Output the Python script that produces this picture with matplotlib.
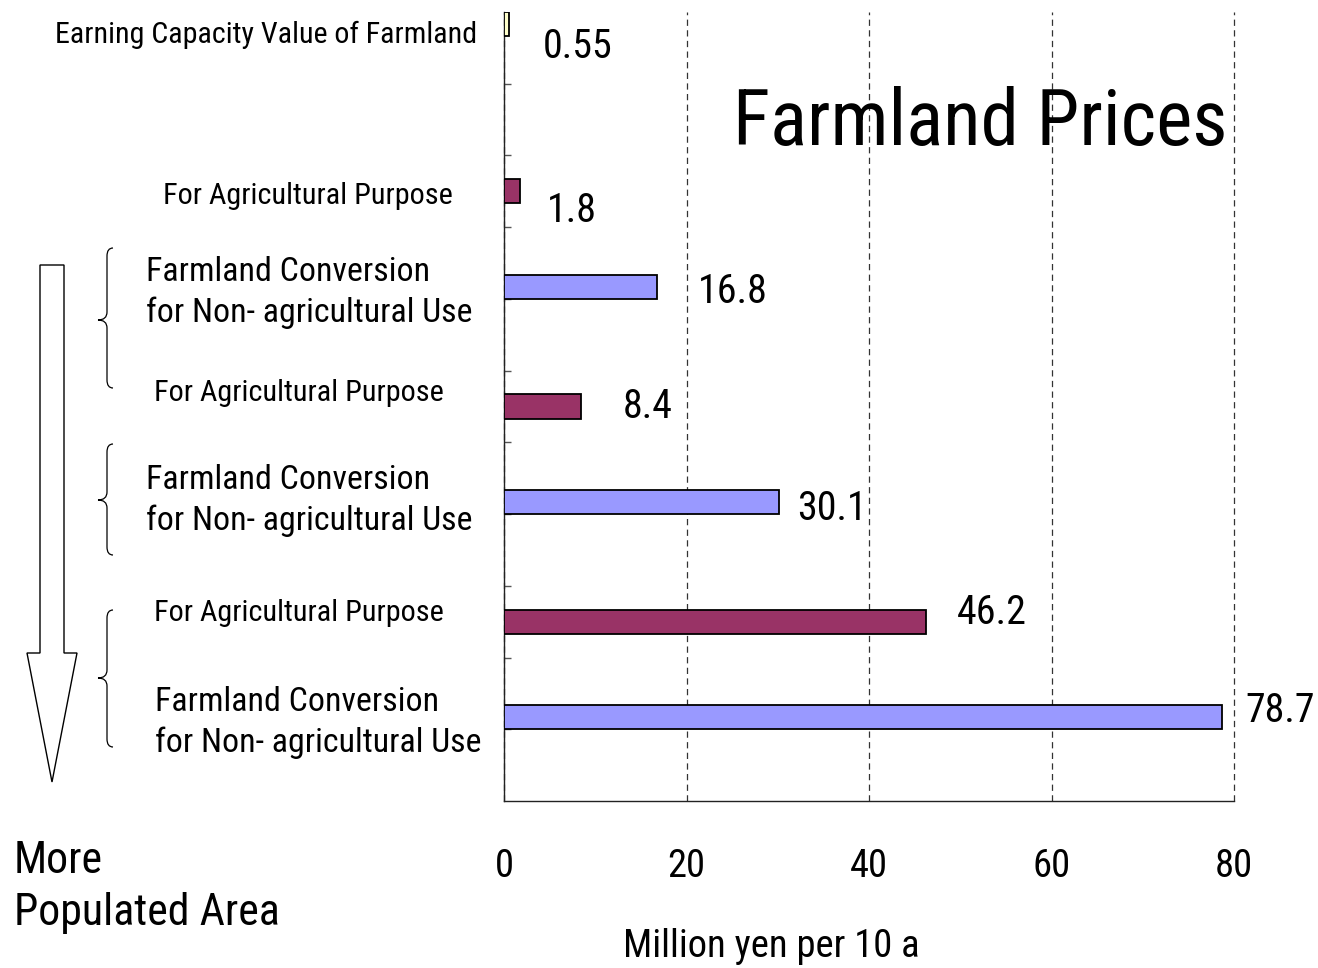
import os
import matplotlib
matplotlib.use("Agg")
import matplotlib.pyplot as plt
from matplotlib import font_manager
from matplotlib.font_manager import FontProperties
from matplotlib.patches import Polygon, PathPatch
from matplotlib.path import Path

# --- data -------------------------------------------------------------
values = [0.55, 1.8, 16.8, 8.4, 30.1, 46.2, 78.7]
kinds = ["earning", "agri", "conv", "agri", "conv", "agri", "conv"]
slots = [0, 2, 3, 5, 6, 8, 9]          # category slot of each bar (11 slots)
xticks = [0, 20, 40, 60, 80]
cat_labels = [
    ["Earning Capacity Value of Farmland"],
    ["For Agricultural Purpose"],
    ["Farmland Conversion", "for Non- agricultural Use"],
    ["For Agricultural Purpose"],
    ["Farmland Conversion", "for Non- agricultural Use"],
    ["For Agricultural Purpose"],
    ["Farmland Conversion", "for Non- agricultural Use"],
]

# --- styling ----------------------------------------------------------
colors = {"earning": "#FFFFCC", "agri": "#993366", "conv": "#9999FF"}
offsets = {"earning": 1 / 6, "agri": 0.5, "conv": 5 / 6}
bar_h = 0.335
# value-label shift from bar end, in pixels (right, down to baseline)
label_shift = [(34, 34), (26, 31), (41, 16), (42, 11), (18, 18), (31, 2), (23, 5)]
# category labels: left x, first baseline y, size
cat_pos = [(55, 43, 23.3), (163, 204, 23.5), (146, 281, 26.3), (154, 401, 23.5),
           (146, 489, 26.3), (154, 621, 23.5), (155, 711, 26.3)]
line_gap = 41


def pick_font():
    # the reference uses a squeezed Arial look: take a narrow face if one exists
    prefs = ["liberationsansnarrow", "arialn", "robotocondensed", "notosans-condensed",
             "notosans", "opensans", "dejavusanscondensed", "condensed", "narrow"]
    best, rank = None, len(prefs)
    for f in font_manager.fontManager.ttflist:
        base = os.path.basename(f.fname).lower()
        if not ("narrow" in base or "condensed" in base):
            continue
        if any(s in base for s in ("semi", "extra", "ultra", "bold", "italic", "light",
                                   "medium", "black", "thin")):
            continue
        if f.style != "normal" or f.weight not in (400, "normal", "regular"):
            continue
        for i, p in enumerate(prefs):
            if p in base and i < rank:
                best, rank = f.fname, i
    return best


font_file = pick_font()


def fprop(size):
    if font_file:
        return FontProperties(fname=font_file, size=size)
    return FontProperties(family="Liberation Sans", size=size)


W, H = 1318, 968
fig = plt.figure(figsize=(W / 100, H / 100), dpi=100)

# one scale factor so that text widths come out like the reference
renderer = fig.canvas.get_renderer()
probe = fig.text(0, 0, "Million yen per 10 a", fontproperties=fprop(30))
k = 297 / probe.get_window_extent(renderer).width
k = min(max(k, 0.7), 1.15)
probe.remove()


def fp(size):
    return fprop(size * k)


ax = fig.add_axes([504 / W, 1 - 801 / H, 730 / W, 789 / H])

ypos = [s + offsets[kd] for s, kd in zip(slots, kinds)]
ax.barh(ypos, values, height=bar_h, color=[colors[kd] for kd in kinds],
        edgecolor="black", linewidth=1.3, zorder=3)

for v, y, (dx, dy) in zip(values, ypos, label_shift):
    ax.annotate(f"{v:g}", xy=(v, y), xytext=(dx, -dy), textcoords="offset pixels",
                ha="left", va="baseline", fontproperties=fp(31))

ax.set_xlim(0, 80)
ax.set_ylim(11, 0)
ax.set_xticks(xticks)
ax.set_xticklabels([str(t) for t in xticks], fontproperties=fp(30))
ax.tick_params(axis="x", length=0, pad=34)
ax.set_yticks(range(1, 11))
ax.set_yticklabels([])
ax.tick_params(axis="y", direction="in", length=5, width=1, color="#555")
ax.grid(axis="x", linestyle=(0, (5, 3.5)), color="#333", linewidth=0.9, zorder=0)
for gl in ax.get_xgridlines():
    gl.set_clip_on(False)   # keep the dashed line at 80 whole
ax.set_axisbelow(True)
for side in ("top", "right"):
    ax.spines[side].set_visible(False)
for side in ("left", "bottom"):
    ax.spines[side].set_color("#222")
    ax.spines[side].set_linewidth(1.0)

# overlay in pixel coordinates for the free text and shapes
ov = fig.add_axes([0, 0, 1, 1])
ov.set_xlim(0, W)
ov.set_ylim(H, 0)
ov.axis("off")
ov.patch.set_alpha(0)

ov.text(733, 145, "Farmland Prices", fontproperties=fp(59.8), ha="left", va="baseline")
ov.text(771, 957, "Million yen per 10 a", fontproperties=fp(30), ha="center", va="baseline")
ov.text(14, 873, "More", fontproperties=fp(34), ha="left", va="baseline")
ov.text(14, 925, "Populated Area", fontproperties=fp(34), ha="left", va="baseline")

for lines, (x, y, fs) in zip(cat_labels, cat_pos):
    for i, line in enumerate(lines):
        ov.text(x, y + i * line_gap, line, fontproperties=fp(fs), ha="left", va="baseline")

# hollow arrow pointing down
arrow = [(40, 265), (64, 265), (64, 653), (77, 653), (52, 782), (27, 653), (40, 653)]
ov.add_patch(Polygon(arrow, closed=True, facecolor="white", edgecolor="black", lw=1.0))


def brace(y0, y1, ym, xl=107, xt=98, xe=113, r=8):
    verts = [(xe, y0), (xl, y0), (xl, y0 + r), (xl, ym - r), (xl, ym), (xt, ym),
             (xl, ym), (xl, ym + r), (xl, y1 - r), (xl, y1), (xe, y1)]
    codes = [Path.MOVETO, Path.CURVE3, Path.CURVE3, Path.LINETO, Path.CURVE3,
             Path.CURVE3, Path.CURVE3, Path.CURVE3, Path.LINETO, Path.CURVE3, Path.CURVE3]
    ov.add_patch(PathPatch(Path(verts, codes), facecolor="none", edgecolor="black", lw=0.9))


brace(248, 388, 320)
brace(444, 555, 500)
brace(610, 747, 678)

fig.savefig("out.png", dpi=100)
